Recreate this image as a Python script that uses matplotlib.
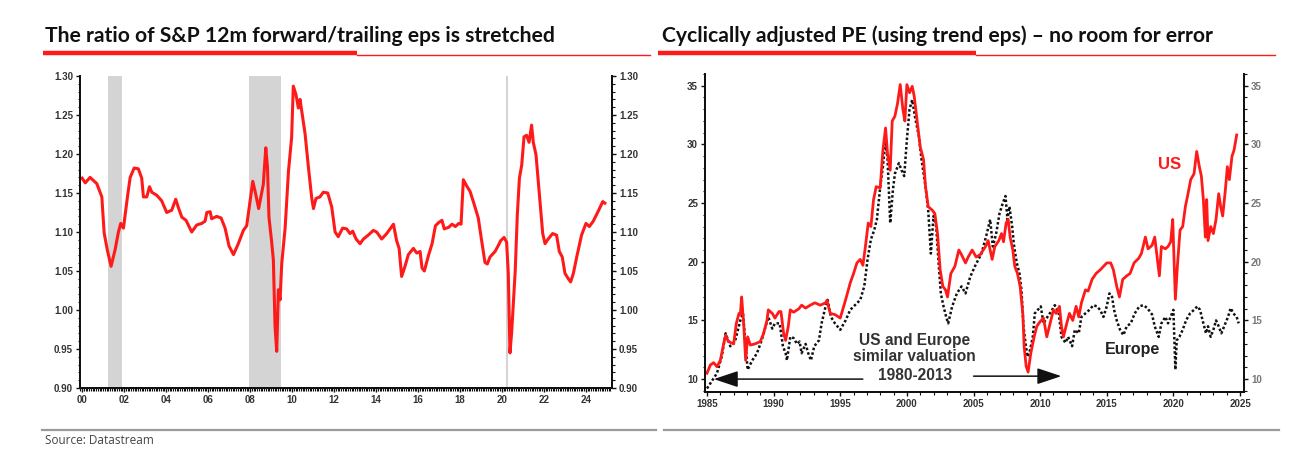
import matplotlib
matplotlib.use("Agg")
from matplotlib import pyplot as plt
from matplotlib.ticker import MultipleLocator, FixedLocator

# --- left chart: S&P 12m forward / trailing eps (decimal years)
fwd_years = [2000.0, 2000.15, 2000.38, 2000.7, 2000.94, 2001.05, 2001.2, 2001.38, 2001.57, 2001.73,
             2001.84, 2001.97, 2002.16, 2002.29, 2002.48, 2002.68, 2002.84, 2002.92, 2003.08, 2003.21,
             2003.32, 2003.56, 2003.79, 2004.03, 2004.27, 2004.46, 2004.59, 2004.75, 2004.95, 2005.22,
             2005.46, 2005.7, 2005.86, 2005.94, 2006.1, 2006.17, 2006.41, 2006.62, 2006.81, 2007.0,
             2007.21, 2007.44, 2007.68, 2007.84, 2008.0, 2008.13, 2008.25, 2008.41, 2008.56, 2008.63,
             2008.75, 2008.83, 2008.9, 2009.03, 2009.11, 2009.19, 2009.27, 2009.35, 2009.43, 2009.51,
             2009.67, 2009.83, 2009.98, 2010.06, 2010.19, 2010.3, 2010.38, 2010.46, 2010.62, 2010.78,
             2010.94, 2011.02, 2011.14, 2011.33, 2011.49, 2011.7, 2011.89, 2012.05, 2012.2, 2012.41,
             2012.6, 2012.76, 2012.89, 2013.05, 2013.24, 2013.4, 2013.63, 2013.87, 2014.03, 2014.27,
             2014.51, 2014.83, 2014.98, 2015.1, 2015.22, 2015.38, 2015.54, 2015.78, 2015.94, 2016.1,
             2016.19, 2016.3, 2016.51, 2016.67, 2016.83, 2016.98, 2017.14, 2017.25, 2017.46, 2017.62,
             2017.78, 2017.94, 2018.05, 2018.16, 2018.32, 2018.48, 2018.67, 2018.87, 2019.03, 2019.19,
             2019.3, 2019.43, 2019.67, 2019.83, 2019.94, 2020.1, 2020.22, 2020.3, 2020.38, 2020.46,
             2020.54, 2020.63, 2020.73, 2020.83, 2020.94, 2021.05, 2021.17, 2021.29, 2021.41, 2021.49,
             2021.62, 2021.78, 2021.94, 2022.05, 2022.2, 2022.41, 2022.6, 2022.73, 2022.87, 2023.0,
             2023.16, 2023.27, 2023.4, 2023.56, 2023.79, 2024.0, 2024.16, 2024.35, 2024.59, 2024.8,
             2024.9]
fwd_ratio = [1.169, 1.163, 1.170, 1.162, 1.145, 1.099, 1.077, 1.056, 1.077, 1.100,
             1.111, 1.105, 1.145, 1.170, 1.182, 1.181, 1.169, 1.145, 1.145, 1.158,
             1.151, 1.147, 1.140, 1.125, 1.128, 1.142, 1.131, 1.119, 1.115, 1.100,
             1.109, 1.111, 1.114, 1.125, 1.126, 1.117, 1.120, 1.118, 1.105, 1.082,
             1.071, 1.085, 1.102, 1.108, 1.140, 1.165, 1.151, 1.130, 1.151, 1.161,
             1.208, 1.183, 1.119, 1.087, 1.064, 0.979, 0.947, 1.026, 1.013, 1.060,
             1.105, 1.178, 1.221, 1.287, 1.276, 1.259, 1.270, 1.255, 1.226, 1.183,
             1.143, 1.130, 1.143, 1.145, 1.151, 1.150, 1.132, 1.100, 1.094, 1.105,
             1.104, 1.098, 1.101, 1.091, 1.085, 1.091, 1.096, 1.102, 1.100, 1.091,
             1.098, 1.110, 1.089, 1.079, 1.043, 1.056, 1.071, 1.079, 1.073, 1.075,
             1.054, 1.050, 1.071, 1.085, 1.108, 1.112, 1.115, 1.104, 1.106, 1.110,
             1.107, 1.111, 1.110, 1.167, 1.159, 1.152, 1.136, 1.118, 1.089, 1.061,
             1.059, 1.068, 1.075, 1.083, 1.089, 1.093, 1.087, 1.047, 0.945, 0.971,
             1.008, 1.050, 1.122, 1.169, 1.186, 1.222, 1.224, 1.215, 1.237, 1.215,
             1.199, 1.148, 1.098, 1.085, 1.091, 1.098, 1.096, 1.075, 1.068, 1.047,
             1.040, 1.036, 1.047, 1.068, 1.096, 1.111, 1.107, 1.114, 1.127, 1.139,
             1.137]
recessions = [(2001.25, 2001.9), (2007.95, 2009.48), (2020.17, 2020.27)]

# --- right chart: cyclically adjusted PE
us_years = [1985.0, 1985.25, 1985.5, 1985.75, 1986.0, 1986.25, 1986.4, 1986.6, 1987.0, 1987.2,
            1987.4, 1987.5, 1987.6, 1987.75, 1987.9, 1988.05, 1988.25, 1988.6, 1989.0, 1989.25,
            1989.5, 1989.6, 1989.9, 1990.1, 1990.4, 1990.55, 1990.75, 1990.9, 1991.1, 1991.25,
            1991.5, 1991.9, 1992.1, 1992.4, 1992.75, 1993.1, 1993.5, 1993.9, 1994.0, 1994.25,
            1994.6, 1995.0, 1995.4, 1995.75, 1996.0, 1996.25, 1996.5, 1996.7, 1996.9, 1997.1,
            1997.3, 1997.5, 1997.7, 1998.0, 1998.2, 1998.4, 1998.55, 1998.75, 1998.9, 1999.1,
            1999.3, 1999.5, 1999.7, 1999.85, 2000.0, 2000.2, 2000.4, 2000.55, 2000.75, 2001.0,
            2001.25, 2001.4, 2001.6, 2001.9, 2002.1, 2002.3, 2002.5, 2002.7, 2002.9, 2003.05,
            2003.3, 2003.6, 2003.9, 2004.1, 2004.4, 2004.6, 2004.9, 2005.2, 2005.5, 2005.9,
            2006.1, 2006.4, 2006.6, 2006.9, 2007.1, 2007.25, 2007.45, 2007.6, 2007.75, 2007.95,
            2008.1, 2008.3, 2008.5, 2008.7, 2008.8, 2008.95, 2009.1, 2009.3, 2009.55, 2009.75,
            2010.0, 2010.25, 2010.5, 2010.75, 2011.0, 2011.2, 2011.45, 2011.6, 2011.75, 2012.0,
            2012.2, 2012.45, 2012.7, 2012.9, 2013.1, 2013.4, 2013.6, 2013.9, 2014.2, 2014.5,
            2014.75, 2015.0, 2015.3, 2015.5, 2015.75, 2015.95, 2016.2, 2016.5, 2016.75, 2017.05,
            2017.4, 2017.6, 2017.9, 2018.1, 2018.4, 2018.6, 2018.8, 2018.95, 2019.1, 2019.4,
            2019.6, 2019.8, 2019.95, 2020.05, 2020.15, 2020.3, 2020.5, 2020.7, 2020.9, 2021.1,
            2021.3, 2021.55, 2021.75, 2021.95, 2022.1, 2022.25, 2022.4, 2022.5, 2022.6, 2022.8,
            2023.0, 2023.2, 2023.4, 2023.55, 2023.7, 2023.9, 2024.05, 2024.2, 2024.4, 2024.55,
            2024.75]
us_cape = [10.5, 11.2, 11.4, 11.05, 11.6, 13.0, 13.75, 13.2, 13.0, 14.75,
           15.6, 15.5, 17.0, 14.75, 11.6, 13.6, 12.9, 13.0, 13.2, 13.9,
           15.0, 15.9, 15.6, 15.2, 15.75, 15.75, 13.9, 13.3, 14.5, 15.9,
           15.7, 16.0, 16.3, 16.05, 16.3, 16.5, 16.3, 16.5, 16.7, 15.6,
           15.5, 15.2, 16.75, 18.2, 19.0, 19.9, 20.2, 19.7, 21.4, 23.3,
           23.0, 25.3, 26.4, 26.3, 29.5, 31.4, 29.2, 27.8, 32.0, 32.4,
           33.5, 35.1, 33.0, 32.0, 35.1, 34.4, 34.95, 34.1, 32.2, 29.8,
           28.7, 26.4, 24.7, 24.4, 24.1, 22.4, 19.3, 17.9, 17.6, 17.0,
           19.0, 19.6, 21.0, 20.6, 19.9, 20.4, 21.0, 20.4, 20.6, 21.3,
           21.8, 20.2, 21.3, 21.8, 22.4, 21.7, 23.3, 23.6, 22.1, 21.0,
           19.6, 19.0, 17.9, 15.6, 12.8, 11.1, 10.6, 12.2, 13.6, 14.5,
           14.9, 15.2, 13.6, 14.75, 15.9, 15.6, 16.2, 14.5, 13.6, 14.75,
           15.6, 15.0, 16.2, 15.3, 16.5, 17.6, 17.5, 18.5, 19.0, 19.3,
           19.6, 19.9, 19.9, 19.3, 17.9, 17.0, 18.5, 18.8, 19.0, 19.9,
           20.3, 20.7, 22.1, 21.1, 21.4, 22.1, 20.2, 18.8, 21.3, 21.1,
           21.3, 21.7, 23.6, 20.2, 16.8, 19.6, 22.7, 23.0, 24.7, 25.8,
           27.0, 27.5, 29.4, 28.1, 27.3, 25.3, 22.1, 25.3, 21.8, 23.0,
           22.4, 23.6, 25.8, 24.7, 23.9, 26.1, 28.1, 27.0, 29.0, 29.5,
           30.8]
eu_years = [1985.0, 1985.4, 1985.75, 1986.1, 1986.4, 1986.75, 1987.1, 1987.5, 1987.7, 1987.9,
            1988.05, 1988.4, 1988.75, 1989.1, 1989.4, 1989.6, 1989.9, 1990.1, 1990.45, 1990.7,
            1990.9, 1991.0, 1991.25, 1991.5, 1991.75, 1991.95, 1992.1, 1992.4, 1992.6, 1992.8,
            1993.05, 1993.4, 1993.6, 1993.9, 1994.05, 1994.3, 1994.6, 1995.0, 1995.4, 1995.75,
            1996.1, 1996.5, 1996.8, 1997.05, 1997.3, 1997.55, 1997.75, 1998.0, 1998.2, 1998.4,
            1998.55, 1998.75, 1998.95, 1999.1, 1999.4, 1999.6, 1999.8, 2000.0, 2000.2, 2000.4,
            2000.6, 2000.9, 2001.1, 2001.4, 2001.6, 2001.8, 2002.0, 2002.2, 2002.4, 2002.55,
            2002.75, 2002.95, 2003.1, 2003.4, 2003.75, 2004.1, 2004.4, 2004.75, 2005.1, 2005.6,
            2006.0, 2006.25, 2006.45, 2006.7, 2006.95, 2007.2, 2007.4, 2007.55, 2007.7, 2007.9,
            2008.05, 2008.25, 2008.45, 2008.6, 2008.75, 2008.9, 2009.05, 2009.25, 2009.45, 2009.6,
            2009.9, 2010.05, 2010.25, 2010.55, 2010.9, 2011.1, 2011.4, 2011.6, 2011.9, 2012.1,
            2012.4, 2012.6, 2012.9, 2013.1, 2013.4, 2013.7, 2014.0, 2014.25, 2014.5, 2014.75,
            2015.0, 2015.2, 2015.4, 2015.55, 2015.75, 2016.0, 2016.25, 2016.5, 2016.8, 2017.1,
            2017.45, 2017.75, 2018.05, 2018.4, 2018.6, 2018.9, 2019.1, 2019.4, 2019.6, 2019.9,
            2020.0, 2020.1, 2020.15, 2020.25, 2020.45, 2020.7, 2020.95, 2021.25, 2021.55, 2021.8,
            2022.0, 2022.25, 2022.45, 2022.6, 2022.8, 2023.0, 2023.2, 2023.4, 2023.6, 2023.9,
            2024.1, 2024.3, 2024.5, 2024.75, 2024.9]
eu_cape = [9.2, 9.9, 10.5, 11.9, 13.9, 12.8, 13.2, 15.0, 15.6, 12.8,
           10.8, 11.6, 12.2, 13.3, 14.5, 15.3, 14.3, 14.75, 14.75, 12.8,
           12.2, 11.6, 13.6, 13.5, 13.0, 13.2, 12.2, 13.0, 12.2, 11.6,
           12.8, 13.3, 14.75, 16.2, 16.75, 15.3, 14.75, 14.2, 15.0, 15.9,
           16.3, 16.75, 17.9, 20.2, 21.9, 22.7, 23.6, 26.4, 28.1, 30.4,
           28.7, 23.3, 26.1, 27.5, 28.4, 27.8, 27.3, 30.4, 33.0, 33.8,
           32.4, 30.7, 28.7, 26.4, 24.4, 20.7, 23.9, 23.0, 19.6, 17.3,
           16.2, 15.3, 14.75, 16.2, 17.3, 17.9, 17.3, 18.7, 19.6, 20.7,
           22.4, 23.6, 21.3, 22.4, 24.1, 25.0, 25.6, 23.6, 24.7, 23.0,
           21.3, 19.9, 19.0, 17.6, 14.5, 13.1, 11.9, 12.5, 13.6, 15.6,
           16.0, 16.2, 14.75, 15.3, 15.9, 16.3, 15.6, 13.6, 13.1, 13.6,
           12.8, 14.2, 13.9, 15.3, 15.6, 15.9, 16.3, 16.2, 15.9, 15.3,
           16.2, 17.3, 17.0, 15.9, 15.0, 14.2, 13.75, 14.5, 14.75, 15.6,
           16.2, 16.3, 16.05, 15.5, 14.5, 13.6, 14.75, 15.3, 14.75, 15.6,
           15.9, 12.5, 10.8, 13.3, 13.6, 14.2, 15.0, 15.6, 15.9, 16.2,
           15.9, 14.75, 13.9, 14.5, 13.6, 14.2, 15.0, 14.5, 13.9, 14.75,
           15.3, 16.05, 15.6, 15.3, 14.75]

title_font = "Lato"
tick_font = "Liberation Sans"
red = "#ff1a1a"

fig = plt.figure(figsize=(13, 4.72), dpi=100)

# titles with red underline
fig.text(45 / 1300, 1 - 36 / 472, "The ratio of S&P 12m forward/trailing eps is stretched",
         family=title_font, weight="bold", fontsize=15.2, va="center", color="#111")
fig.text(662 / 1300, 1 - 36 / 472, "Cyclically adjusted PE (using trend eps) \u2013 no room for error",
         family=title_font, weight="bold", fontsize=15.2, va="center", color="#111")
for x0, x1, x2 in [(43, 357, 650), (658, 976, 1275)]:
    fig.add_artist(plt.Line2D([x0 / 1300, x1 / 1300], [1 - 53 / 472] * 2, color=red, lw=3.2,
                              solid_capstyle="butt"))
    fig.add_artist(plt.Line2D([x1 / 1300, x2 / 1300], [1 - 54.5 / 472] * 2, color=red, lw=1.0))

# grey footer rule
for x0, x1 in [(42, 656), (664, 1279)]:
    fig.add_artist(plt.Line2D([x0 / 1300, x1 / 1300], [1 - 430 / 472] * 2, color="#9a9a9a", lw=1.6))
fig.text(45 / 1300, 1 - 440 / 472, "Source: Datastream", family="Open Sans", fontsize=8.5,
         va="center", color="#444")


def style_axes(ax, twin):
    for a in (ax, twin):
        a.spines["top"].set_visible(False)
        for s in ("left", "right", "bottom"):
            a.spines[s].set_linewidth(1.4)
            a.spines[s].set_color("#111")
        a.tick_params(which="major", length=3, width=1.0, labelsize=7, direction="out",
                      colors="#111", pad=2)
        a.tick_params(which="minor", length=1.8, width=0.8, direction="out", colors="#111")
        for lab in a.get_xticklabels() + a.get_yticklabels():
            lab.set_family(tick_font)
            lab.set_weight("bold")
            lab.set_color("#333")


# ---------------- left chart
ax1 = fig.add_axes([80 / 1300, 1 - 388 / 472, 532 / 1300, 312 / 472])
for r0, r1 in recessions:
    ax1.axvspan(r0, r1, color="#d4d4d4", lw=0, zorder=0)
ax1.plot(fwd_years, fwd_ratio, color=red, lw=2.2, zorder=3)
ax1.set_xlim(1999.9, 2025.24)
ax1.set_ylim(0.90, 1.30)
ax1.xaxis.set_major_locator(FixedLocator(list(range(2000, 2025, 2))))
ax1.set_xticklabels(["%02d" % (y % 100) for y in range(2000, 2025, 2)])
ax1.xaxis.set_minor_locator(MultipleLocator(1 / 12))
ax1.yaxis.set_major_locator(MultipleLocator(0.05))
ax1.yaxis.set_minor_locator(MultipleLocator(0.01))
ax1.yaxis.set_major_formatter(matplotlib.ticker.FormatStrFormatter("%.2f"))
ax1b = ax1.twinx()
ax1b.set_ylim(ax1.get_ylim())
ax1b.yaxis.set_major_locator(MultipleLocator(0.05))
ax1b.yaxis.set_minor_locator(MultipleLocator(0.01))
ax1b.yaxis.set_major_formatter(matplotlib.ticker.FormatStrFormatter("%.2f"))
style_axes(ax1, ax1b)

# ---------------- right chart
ax2 = fig.add_axes([705 / 1300, 1 - 392 / 472, 539 / 1300, 318 / 472])
ax2.plot(eu_years, eu_cape, color="#111", lw=1.8, ls=(0, (1, 0.9)), zorder=2)
ax2.plot(us_years, us_cape, color=red, lw=2.0, zorder=3)
ax2.set_xlim(1984.85, 2025.3)
ax2.set_ylim(8.9, 36.0)
ax2.xaxis.set_major_locator(MultipleLocator(5))
ax2.xaxis.set_minor_locator(MultipleLocator(1))
ax2.yaxis.set_major_locator(MultipleLocator(5))
ax2.yaxis.set_minor_locator(MultipleLocator(1))
ax2b = ax2.twinx()
ax2b.set_ylim(ax2.get_ylim())
ax2b.yaxis.set_major_locator(MultipleLocator(5))
ax2b.yaxis.set_minor_locator(MultipleLocator(1))
style_axes(ax2, ax2b)
for lab in ax2b.get_yticklabels():
    lab.set_color("#777")

ax2.text(2019.7, 28.3, "US", color=red, fontsize=12, weight="bold", family=tick_font,
         ha="center", va="center")
ax2.text(2016.9, 12.55, "Europe", color="#222", fontsize=11.5, weight="bold", family=tick_font,
         ha="center", va="center")
ax2.text(2000.6, 12.6, "US and Europe\nsimilar valuation", color="#333", fontsize=11.2,
         weight="bold", family=tick_font, ha="center", va="center", linespacing=1.15)
ax2.text(2000.6, 10.3, "1980-2013", color="#333", fontsize=11.2, weight="bold",
         family=tick_font, ha="center", va="center")
arrow = dict(arrowstyle="-|>,head_length=1.5,head_width=0.5", color="#111", lw=1.1)
ax2.annotate("", xy=(1985.3, 10.0), xytext=(1996.9, 10.0), arrowprops=arrow)
ax2.annotate("", xy=(2011.8, 10.25), xytext=(2004.8, 10.25), arrowprops=arrow)

fig.savefig("out.png", dpi=100)
